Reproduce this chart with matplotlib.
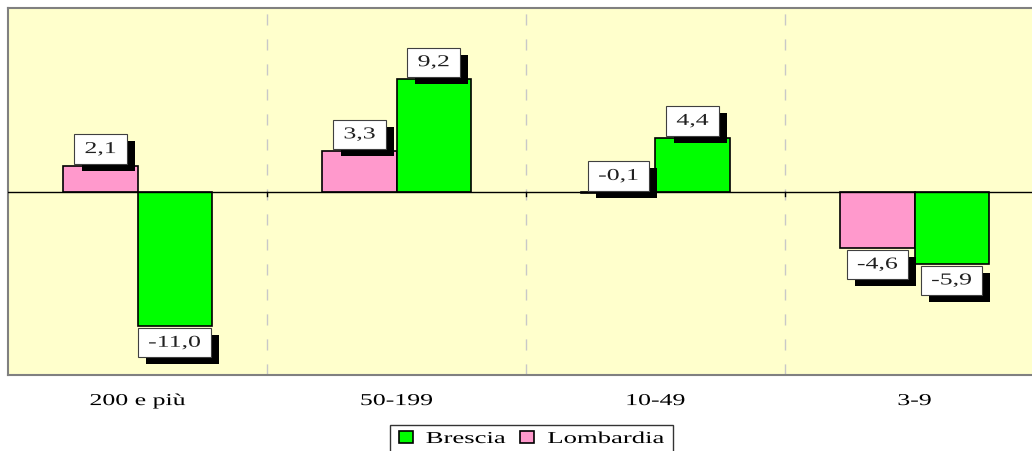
import numpy as np
import matplotlib.pyplot as plt
import matplotlib.patches as patch
import matplotlib.patheffects as pe
from matplotlib.transforms import Affine2D

# classi di addetti e variazioni percentuali
categorie = ['200 e più', '50-199', '10-49', '3-9']
brescia = [-11.0, 9.2, 4.4, -5.9]
lombardia = [2.1, 3.3, -0.1, -4.6]

col_brescia = '#00FF00'
col_lombardia = '#FF99CC'

plt.rcParams['font.family'] = ['Liberation Serif', 'DejaVu Serif']

ALLARGA = 1.55   # il testo e' disegnato allargato in orizzontale


class Allarga(pe.AbstractPathEffect):
    """allarga il tracciato in x attorno al suo centro (o a cx dato, in pixel)"""
    def __init__(self, sx, cx=None, ombra=None):
        super().__init__()
        self.sx = sx
        self.cx = cx
        self.ombra = ombra

    def draw_path(self, renderer, gc, tpath, affine, rgbFace=None):
        if self.cx is None:
            bb = tpath.get_extents(affine)
            cx = 0.5 * (bb.x0 + bb.x1)
        else:
            cx = self.cx
        st = affine + Affine2D().translate(-cx, 0).scale(self.sx, 1).translate(cx, 0)
        if self.ombra is not None:
            g = renderer.new_gc()
            g.copy_properties(gc)
            g.set_foreground('black')
            g.set_linewidth(0)
            renderer.draw_path(g, tpath, st + Affine2D().translate(*self.ombra), (0, 0, 0, 1))
            g.restore()
        renderer.draw_path(gc, tpath, st, rgbFace)


fig = plt.figure(figsize=(10.32, 4.52), dpi=100)
ax = fig.add_axes([8/1032, 1-376/452, 1036/1032, 367/452])
ax.set_facecolor('#FFFFCC')

x = np.arange(len(categorie))
w = 0.286

bl = ax.bar(x - w/2, lombardia, w, color=col_lombardia, edgecolor='black', lw=1.2, zorder=3)
bb = ax.bar(x + w/2, brescia, w, color=col_brescia, edgecolor='black', lw=1.2, zorder=3)

ax.set_xlim(-0.5, len(categorie) - 0.5)
ax.set_ylim(-15, 15)
ax.axhline(0, color='black', lw=1, zorder=4)

for xd in x[:-1] + 0.5:
    ax.axvline(xd, color='#C8C8C8', lw=1, dashes=(8, 10), zorder=1)
    ax.plot([xd, xd], [0, -0.35], color='black', lw=1, zorder=4)

for s in ax.spines.values():
    s.set_color('#808080')
    s.set_linewidth(1.5)

ax.set_yticks([])
ax.set_xticks(x)
ax.set_xticklabels(categorie, fontsize=12)
ax.tick_params(axis='x', length=0, pad=13)
for lbl in ax.get_xticklabels():
    lbl.set_path_effects([Allarga(ALLARGA)])


def etichetta(xc, v):
    sopra = v > -1
    t = ax.annotate(f'{v:.1f}'.replace('.', ','), xy=(xc, v),
                    xytext=(0, 6.3 if sopra else -6.3), textcoords='offset points',
                    ha='center', va='bottom' if sopra else 'top',
                    fontsize=12, color='#202020', zorder=6,
                    bbox=dict(boxstyle='square,pad=0.4', fc='white', ec='#404040', lw=0.8))
    t.set_path_effects([Allarga(ALLARGA)])
    t.get_bbox_patch().set_path_effects([Allarga(ALLARGA, ombra=(8, -7))])


for i in range(len(categorie)):
    etichetta(x[i] - w/2, lombardia[i])
    etichetta(x[i] + w/2, brescia[i])

maniglie = [patch.Rectangle((0, 0), 1, 1, fc=col_brescia, ec='black', lw=1.2),
            patch.Rectangle((0, 0), 1, 1, fc=col_lombardia, ec='black', lw=1.2)]
leg = fig.legend(maniglie, ['Brescia', 'Lombardia'], loc='center',
                 bbox_to_anchor=(531.5/1032, 1-440/452), ncol=2, fontsize=12,
                 frameon=True, fancybox=False, handlelength=0.525, handleheight=0.7,
                 handletextpad=0.49, columnspacing=0.56, borderpad=0.34)
leg.get_frame().set_edgecolor('black')
leg.get_frame().set_linewidth(1)
centro = [Allarga(1.6, cx=531.5)]
leg.get_frame().set_path_effects(centro)
for h in leg.legend_handles:
    h.set_path_effects(centro)
for t in leg.get_texts():
    t.set_path_effects(centro)

fig.savefig('out.png', dpi=100)
